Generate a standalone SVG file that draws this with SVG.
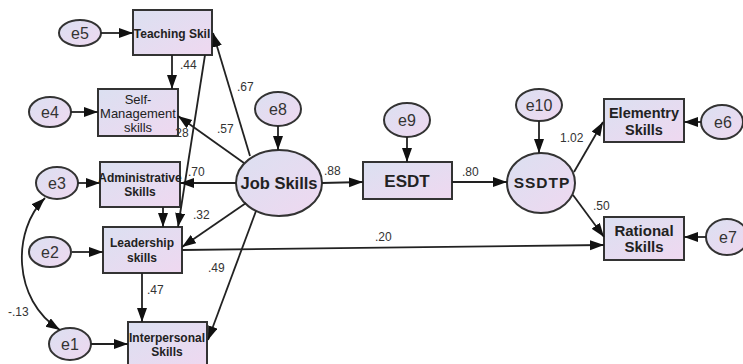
<svg xmlns="http://www.w3.org/2000/svg" width="743" height="364" viewBox="0 0 743 364">
<defs>
<linearGradient id="fill" x1="0" y1="0" x2="1" y2="1">
<stop offset="0" stop-color="#dbe0f1"/>
<stop offset="1" stop-color="#efd8f0"/>
</linearGradient>
<marker id="arr" markerUnits="userSpaceOnUse" markerWidth="15" markerHeight="11" refX="14" refY="5" orient="auto-start-reverse">
<path d="M0,0 L14,5 L0,10 z" fill="#111"/>
</marker>
<style>
.box{fill:url(#fill);stroke:#333;stroke-width:2}
.ell{fill:url(#fill);stroke:#333;stroke-width:2}
.t{font-family:"Liberation Sans",Arial,sans-serif;fill:#222;text-anchor:middle}
.b{font-weight:bold}
.e{font-size:16px;fill:#333}
.c{font-family:"Liberation Sans",Arial,sans-serif;font-size:12px;fill:#333}
.ln{fill:none;stroke:#222;stroke-width:1.8;marker-end:url(#arr)}
</style>
</defs>
<rect width="743" height="364" fill="#fff"/>

<g id="teaching"><rect class="box" x="133" y="10" width="79" height="45"/><text class="t b" x="172" y="38" font-size="12">Teaching Skil</text></g>
<g id="selfmgmt"><rect class="box" x="98" y="89" width="80" height="47"/><text class="t" x="138" y="104" font-size="13">Self-</text><text class="t" x="138" y="118" font-size="13">Management</text><text class="t" x="138" y="132" font-size="13">skills</text></g>
<g id="admin"><rect class="box" x="100" y="162" width="80" height="45"/><text class="t b" x="140" y="182" font-size="12">Administrative</text><text class="t b" x="140" y="196" font-size="12">Skills</text></g>
<g id="leadership"><rect class="box" x="103" y="227" width="79" height="46"/><text class="t b" x="142" y="247" font-size="12">Leadership</text><text class="t b" x="142" y="262" font-size="12">skills</text></g>
<g id="interpersonal"><rect class="box" x="128" y="322" width="79" height="46"/><text class="t b" x="167" y="342" font-size="12">Interpersonal</text><text class="t b" x="167" y="356" font-size="12">Skills</text></g>
<g id="e5"><ellipse class="ell" cx="80" cy="33" rx="21" ry="13"/><text class="t e" x="80" y="39">e5</text></g>
<g id="e4"><ellipse class="ell" cx="50" cy="112" rx="21" ry="15"/><text class="t e" x="50" y="118">e4</text></g>
<g id="e3"><ellipse class="ell" cx="57" cy="183" rx="21" ry="16"/><text class="t e" x="57" y="189">e3</text></g>
<g id="e2"><ellipse class="ell" cx="50" cy="252" rx="21" ry="15"/><text class="t e" x="50" y="258">e2</text></g>
<g id="e1"><ellipse class="ell" cx="70" cy="344" rx="21" ry="16"/><text class="t e" x="70" y="350">e1</text></g>
<g id="jobskills"><ellipse class="ell" cx="279" cy="183" rx="43" ry="33"/><text class="t b" x="279" y="189" font-size="16.5">Job Skills</text></g>
<g id="e8"><ellipse class="ell" cx="278" cy="109" rx="23" ry="17"/><text class="t e" x="278" y="115">e8</text></g>
<g id="esdt"><rect class="box" x="363" y="162" width="89" height="37"/><text class="t b" x="407" y="187" font-size="17">ESDT</text></g>
<g id="e9"><ellipse class="ell" cx="407" cy="120" rx="23" ry="17"/><text class="t e" x="407" y="126">e9</text></g>
<g id="ssdtp"><ellipse class="ell" cx="541" cy="183" rx="34" ry="30"/><text class="t b" x="542" y="188" font-size="15.5" letter-spacing="1">SSDTP</text></g>
<g id="e10"><ellipse class="ell" cx="539" cy="105" rx="23" ry="16"/><text class="t e" x="539" y="111">e10</text></g>
<g id="elementry"><rect class="box" x="604" y="99" width="80" height="43"/><text class="t b" x="644" y="118" font-size="14.5">Elementry</text><text class="t b" x="644" y="135" font-size="14.5">Skills</text></g>
<g id="e6"><ellipse class="ell" cx="722" cy="122" rx="21" ry="17"/><text class="t e" x="723" y="128">e6</text></g>
<g id="rational"><rect class="box" x="604" y="217" width="80" height="43"/><text class="t b" x="644" y="236" font-size="15">Rational</text><text class="t b" x="644" y="252" font-size="15">Skills</text></g>
<g id="e7"><ellipse class="ell" cx="727" cy="237" rx="21" ry="18"/><text class="t e" x="728" y="243">e7</text></g>

<g id="connectors">
<path class="ln" d="M101,33 L133,33"/>
<path class="ln" d="M172,55 L172,89"/>
<path class="ln" d="M71,112 L98,112"/>
<path class="ln" d="M205,55 L178,227"/>
<path class="ln" d="M163,207 L163,227"/>
<path class="ln" d="M250,156 L213,33"/>
<path class="ln" d="M244,163 L178,116"/>
<path class="ln" d="M236,183 L180,183"/>
<path class="ln" d="M246,203 L182,247"/>
<path class="ln" d="M256,211 L208,340"/>
<path class="ln" d="M322,183 L363,182"/>
<path class="ln" d="M278,126 L278,150"/>
<path class="ln" d="M407,137 L407,162"/>
<path class="ln" d="M452,182 L507,182"/>
<path class="ln" d="M539,121 L539,153"/>
<path class="ln" d="M574,172 L603,122"/>
<path class="ln" d="M573,195 L604,237"/>
<path class="ln" d="M701,122 L684,122"/>
<path class="ln" d="M706,237 L684,237"/>
<path class="ln" d="M182,250 L604,245"/>
<path class="ln" d="M142,273 L142,322"/>
<path class="ln" d="M72,252 L103,252"/>
<path class="ln" d="M78,183 L100,183"/>
<path class="ln" d="M91,344 L128,344"/>
<path class="ln" d="M45,198 C12,230 12,300 60,330" marker-start="url(#arr)"/>
</g>

<g id="labels">
<text class="c" x="180" y="69">.44</text>
<text class="c" x="237" y="91">.67</text>
<text class="c" x="217" y="133">.57</text>
<text class="c" x="172" y="137">.28</text>
<text class="c" x="188" y="176">.70</text>
<text class="c" x="193" y="219">.32</text>
<text class="c" x="208" y="272">.49</text>
<text class="c" x="147" y="294">.47</text>
<text class="c" x="8" y="316">-.13</text>
<text class="c" x="324" y="175">.88</text>
<text class="c" x="462" y="176">.80</text>
<text class="c" x="375" y="241">.20</text>
<text class="c" x="560" y="142">1.02</text>
<text class="c" x="593" y="210">.50</text>
</g>
</svg>
